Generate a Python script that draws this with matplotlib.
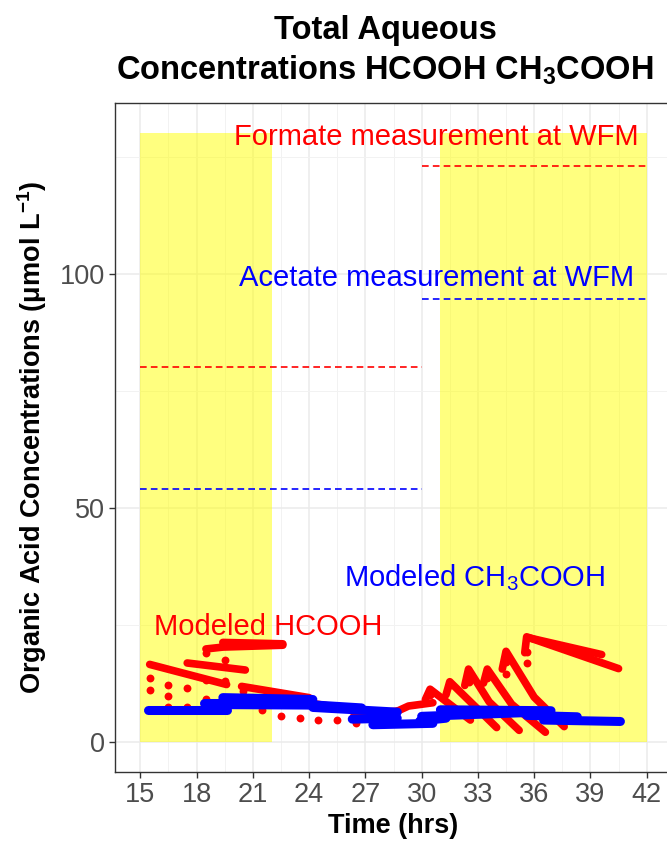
import matplotlib
matplotlib.use("Agg")
import matplotlib.pyplot as plt
from matplotlib.patches import Rectangle

plt.rcParams['font.family'] = ['Liberation Sans', 'DejaVu Sans']
plt.rcParams['mathtext.fontset'] = 'custom'
plt.rcParams['mathtext.rm'] = 'Liberation Sans'
plt.rcParams['mathtext.it'] = 'Liberation Sans:italic'
plt.rcParams['mathtext.bf'] = 'Liberation Sans:bold'

# shaded (daylight) periods, hrs
shade_start = [15, 31]
shade_end = [22, 42]
shade_top = 130

# WFM measurements (dashed lines)
meas_t0 = [15, 30]
meas_t1 = [30, 42]
formate_meas = [80, 123]
acetate_meas = [54, 94.7]

hcooh_runs = [
    ([15.5, 19.6], [16.5, 12.2]),
    ([17.5, 20.6], [16.8, 15.3]),
    ([18.5, 19.4, 22.6], [19.8, 20.2, 20.6]),
    ([19.4, 22.6], [21.2, 20.9]),
    ([20.4, 24.0], [11.8, 9.4]),
    ([23.6, 26.7], [8.5, 6.6]),
    ([26.4, 28.7], [5.8, 6.5]),
    ([28.7, 29.3, 30.6], [6.5, 7.6, 8.3]),
    ([30.2, 30.45, 32.6], [9.0, 11.2, 4.6]),
    ([31.3, 31.5, 34.0], [10.0, 12.8, 3.0]),
    ([32.3, 32.5, 33.6, 35.2], [12.0, 15.5, 8.5, 2.4]),
    ([33.3, 33.5, 34.8, 36.6], [12.5, 15.5, 8.0, 2.0]),
    ([34.3, 34.5, 36.0, 37.6], [15.5, 19.3, 9.5, 3.2]),
    ([35.5, 35.6, 40.5], [19.0, 22.4, 15.6]),
    ([35.7, 39.6], [22.2, 18.6]),
]
hcooh_dot_t = [15.5, 15.5, 16.5, 16.5, 16.5, 17.5, 17.5, 18.5, 18.5, 18.5,
               19.5, 19.5, 19.5, 20.5, 21.5, 22.5, 23.5, 24.5, 25.5, 26.5,
               30.45, 31.5, 32.5, 32.5, 33.5, 34.5, 34.5, 35.6, 35.6]
hcooh_dot_c = [13.5, 11.1, 12.2, 9.7, 7.5, 11.5, 7.5, 19.0, 13.2, 9.0,
               17.5, 12.9, 7.5, 10.8, 6.8, 5.4, 5.1, 4.6, 4.6, 4.0,
               10.0, 12.0, 14.0, 12.8, 13.5, 17.0, 14.5, 19.2, 16.9]

# modeled CH3COOH
ch3cooh_runs = [
    ([15.4, 19.6], [6.8, 6.8]),
    ([18.4, 19.6], [8.2, 8.2]),
    ([19.4, 24.2], [9.4, 9.0]),
    ([19.6, 24.2], [7.9, 7.8]),
    ([23.6, 26.8], [8.0, 7.2]),
    ([24.2, 28.7], [7.3, 6.3]),
    ([26.3, 28.7], [4.8, 5.0]),
    ([27.4, 30.6], [3.6, 3.9]),
    ([29.9, 31.3], [4.4, 5.0]),
    ([30.0, 35.6], [5.4, 6.2]),
    ([31.0, 36.9], [6.8, 6.6]),
    ([35.6, 38.3], [5.6, 5.3]),
    ([36.5, 40.6], [4.6, 4.3]),
]

x_ticks = [15, 18, 21, 24, 27, 30, 33, 36, 39, 42]
x_minor = [16.5, 19.5, 22.5, 25.5, 28.5, 31.5, 34.5, 37.5, 40.5]
y_ticks = [0, 50, 100]
y_minor = [25, 75, 125]


def draw():
    fig = plt.figure(figsize=(6.67, 8.43), dpi=100)
    ax = fig.add_axes([115 / 667, 71 / 843, 557 / 667, 669 / 843])

    # axes and grid
    ax.set_xlim(13.65, 43.35)
    ax.set_ylim(-6.5, 136.5)
    ax.set_xticks(x_ticks)
    ax.set_yticks(y_ticks)
    ax.set_xticks(x_minor, minor=True)
    ax.set_yticks(y_minor, minor=True)
    ax.grid(True, which='major', color='#EBEBEB', lw=1.1)
    ax.grid(True, which='minor', color='#F2F2F2', lw=0.7)
    ax.set_axisbelow(True)
    ax.tick_params(which='minor', length=0)
    ax.tick_params(which='major', length=4, width=1, color='#333333',
                   labelcolor='#4D4D4D', labelsize=19.5, pad=3)
    for s in ax.spines.values():
        s.set_color('#333333')
        s.set_linewidth(1)

    # shading
    for a, b in zip(shade_start, shade_end):
        ax.add_patch(Rectangle((a, 0), b - a, shade_top, color='yellow',
                               alpha=0.5, lw=0, zorder=1))

    # measurements
    for a, b, f, c in zip(meas_t0, meas_t1, formate_meas, acetate_meas):
        ax.plot([a, b], [f, f], color='red', lw=1.2, ls=(0, (4, 2.5)), zorder=2)
        ax.plot([a, b], [c, c], color='blue', lw=1.2, ls=(0, (4, 2.5)), zorder=2)

    # model
    for t, c in hcooh_runs:
        ax.plot(t, c, color='red', lw=5.5, solid_capstyle='round',
                solid_joinstyle='round', zorder=3)
    ax.scatter(hcooh_dot_t, hcooh_dot_c, s=32, color='red', lw=0, zorder=3)
    for t, c in ch3cooh_runs:
        ax.plot(t, c, color='blue', lw=6.5, solid_capstyle='round',
                solid_joinstyle='round', zorder=4)

    # labels
    ax.text(30.8, 129.3, 'Formate measurement at WFM', color='red',
            fontsize=21, ha='center', va='center')
    ax.text(30.8, 99.1, 'Acetate measurement at WFM', color='blue',
            fontsize=21, ha='center', va='center')
    ax.text(32.8, 35, r'Modeled CH$_3$COOH', color='blue',
            fontsize=21, ha='center', va='center')
    ax.text(21.8, 24.6, 'Modeled HCOOH', color='red',
            fontsize=21, ha='center', va='center')

    ax.set_xlabel('Time (hrs)', fontsize=19.5, fontweight='bold', labelpad=4)
    ax.set_ylabel(r'Organic Acid Concentrations (μmol L$^{\mathbf{-1}}$)',
                  fontsize=19.5, fontweight='bold', labelpad=8)
    fig.text(385 / 667, 1 - 30 / 843, 'Total Aqueous', fontsize=23.5,
             fontweight='bold', ha='center', va='center')
    fig.text(385 / 667, 1 - 70 / 843, r'Concentrations HCOOH CH$_\mathbf{3}$COOH',
             fontsize=23.5, fontweight='bold', ha='center', va='center')

    fig.savefig('out.png', dpi=100)


if __name__ == "__main__":
    draw()
